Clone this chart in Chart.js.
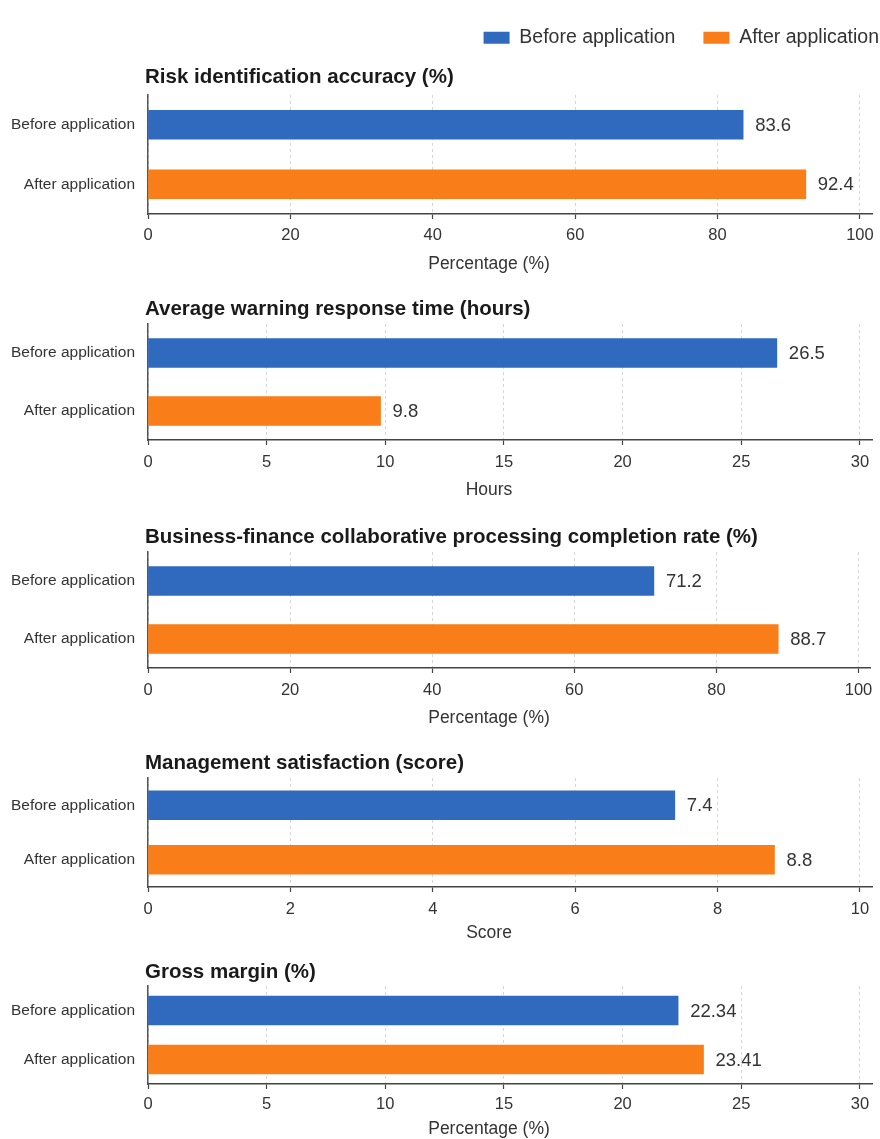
<!DOCTYPE html>
<html>
<head>
<meta charset="utf-8">
<script src="https://cdn.jsdelivr.net/npm/chart.js@4.4.1/dist/chart.umd.min.js"></script>
<style>
  html, body { margin: 0; padding: 0; background: #ffffff; overflow: hidden; width: 880px; height: 1139px; }
  canvas { position: absolute; left: 0; }
</style>
</head>
<body>
<canvas id="panel0"></canvas>
<canvas id="panel1"></canvas>
<canvas id="panel2"></canvas>
<canvas id="panel3"></canvas>
<canvas id="panel4"></canvas>
<canvas id="legendCanvas"></canvas>
<script>
// ---- data ----
const categories = ['Before application', 'After application'];
const panelTitles = [
  'Risk identification accuracy (%)',
  'Average warning response time (hours)',
  'Business-finance collaborative processing completion rate (%)',
  'Management satisfaction (score)',
  'Gross margin (%)'
];
const axisTitles = ['Percentage (%)', 'Hours', 'Percentage (%)', 'Score', 'Percentage (%)'];
const beforeValues = [83.6, 26.5, 71.2, 7.4, 22.34];
const afterValues = [92.4, 9.8, 88.7, 8.8, 23.41];
const axisMax = [100, 30, 100, 10, 30];
const tickSteps = [20, 5, 20, 2, 5];

// ---- styling / layout ----
const seriesColors = ['#306ABE', '#F97D19'];
const PAGE_W = 880;
const PLOT_LEFT = 148;
const PLOT_RIGHT = 872;
const AXIS_TITLE_X = 489;
const TITLE_SPACE = 34;
// page-pixel frame of each panel's plot area
const frames = [
  { top: 95,  bottom: 214,  tickGap: 21,   titleGap: 18, axisTitleY: 264 },
  { top: 324, bottom: 440,  tickGap: 22.5, titleGap: 15, axisTitleY: 490 },
  { top: 552, bottom: 668,  tickGap: 22.5, titleGap: 15, axisTitleY: 718 },
  { top: 778, bottom: 887,  tickGap: 22.5, titleGap: 15, axisTitleY: 933 },
  { top: 986, bottom: 1084, tickGap: 20.5, titleGap: 14, axisTitleY: 1129 }
];

const textColor = '#333333';
const mainFamily = "'Liberation Sans', Arial, Helvetica, sans-serif";
const TICK_SIZE = 16.5;

// value labels at the end of each bar
const valueLabels = {
  id: 'valueLabels',
  afterDatasetsDraw(chart) {
    const ctx = chart.ctx;
    const meta = chart.getDatasetMeta(0);
    const data = chart.data.datasets[0].data;
    ctx.save();
    ctx.font = '18.5px ' + mainFamily;
    ctx.fillStyle = textColor;
    ctx.textAlign = 'left';
    ctx.textBaseline = 'middle';
    meta.data.forEach((bar, i) => {
      ctx.fillText(String(data[i]), bar.x + 12, bar.y + 1);
    });
    ctx.restore();
  }
};

// bold panel heading and the x-axis caption
const panelText = {
  id: 'panelText',
  afterDraw(chart, args, opts) {
    const ctx = chart.ctx;
    const area = chart.chartArea;
    ctx.save();
    ctx.textBaseline = 'middle';
    ctx.font = 'bold 20.5px ' + mainFamily;
    ctx.fillStyle = '#1a1a1a';
    ctx.textAlign = 'left';
    ctx.fillText(opts.text, area.left - 3, area.top - opts.gap);
    ctx.font = '17.5px ' + mainFamily;
    ctx.fillStyle = textColor;
    ctx.textAlign = 'center';
    ctx.fillText(opts.axisText, AXIS_TITLE_X, area.bottom + opts.axisGap);
    ctx.restore();
  }
};

// panels
frames.forEach((f, p) => {
  const cv = document.getElementById('panel' + p);
  const axisH = f.axisTitleY + 14 - f.bottom;
  const canvasTop = f.top - TITLE_SPACE;
  const canvasH = Math.round(f.bottom - f.top + TITLE_SPACE + axisH);
  cv.width = PAGE_W;
  cv.height = canvasH;
  cv.style.top = canvasTop + 'px';
  const step = tickSteps[p];
  new Chart(cv, {
    type: 'bar',
    data: {
      labels: categories,
      datasets: [{
        data: [beforeValues[p], afterValues[p]],
        backgroundColor: seriesColors,
        borderWidth: 0,
        barThickness: 29
      }]
    },
    plugins: [valueLabels, panelText],
    options: {
      indexAxis: 'y',
      responsive: false,
      animation: false,
      layout: { padding: { top: TITLE_SPACE, right: PAGE_W - PLOT_RIGHT, left: 0, bottom: 0 } },
      scales: {
        y: {
          type: 'category',
          afterFit: s => { s.width = PLOT_LEFT; },
          ticks: { padding: 13, color: textColor, font: { family: mainFamily, size: 15.5 } },
          grid: { display: true, drawOnChartArea: false, drawTicks: false },
          border: { display: true, color: '#555555', width: 1.5 }
        },
        x: {
          type: 'linear',
          min: 0,
          max: axisMax[p] * 1.017,
          afterBuildTicks: s => {
            s.ticks = s.ticks.filter(t => Math.abs(t.value / step - Math.round(t.value / step)) < 1e-6);
          },
          afterFit: s => { s.height = axisH; },
          ticks: {
            stepSize: step,
            includeBounds: false,
            padding: f.tickGap - 5 - TICK_SIZE * 0.6,
            color: textColor,
            font: { family: mainFamily, size: TICK_SIZE },
            maxRotation: 0
          },
          grid: { color: '#d6d6d6', lineWidth: 1, tickLength: 5, tickColor: '#444444', tickWidth: 1.2 },
          border: { display: true, color: '#444444', width: 1.5, dash: [3, 3] }
        }
      },
      plugins: {
        legend: { display: false },
        tooltip: { enabled: false },
        panelText: { text: panelTitles[p], gap: f.titleGap, axisText: axisTitles[p], axisGap: f.axisTitleY - f.bottom }
      }
    }
  });
});

// series legend across the top right
(function buildLegend() {
  const cv = document.getElementById('legendCanvas');
  cv.width = 907; cv.height = 150;
  cv.style.top = '0px';
  new Chart(cv, {
    type: 'bar',
    data: { labels: [], datasets: [] },
    options: {
      responsive: false,
      animation: false,
      layout: { padding: 0 },
      scales: { x: { display: false }, y: { display: false } },
      plugins: {
        tooltip: { enabled: false },
        legend: {
          display: true,
          position: 'top',
          align: 'end',
          labels: {
            boxWidth: 26,
            boxHeight: 12,
            padding: 28,
            color: textColor,
            font: { family: mainFamily, size: 19.5 },
            generateLabels: () => categories.map((c, i) => ({
              text: c,
              fillStyle: seriesColors[i],
              strokeStyle: seriesColors[i],
              lineWidth: 0,
              hidden: false,
              fontColor: textColor,
              datasetIndex: i
            }))
          }
        }
      }
    }
  });
})();
</script>
</body>
</html>
